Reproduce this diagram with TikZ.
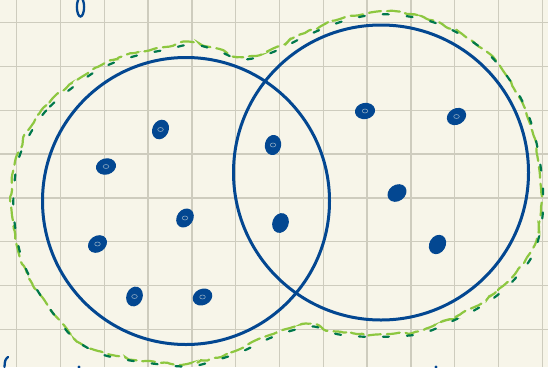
\documentclass[tikz,border=0pt]{standalone}
\usepackage{tikz}
\usetikzlibrary{shapes.geometric, decorations.pathmorphing}
\definecolor{paper}{RGB}{247, 245, 233}
\definecolor{gridgrey}{RGB}{206, 204, 190}
\definecolor{inkblue}{RGB}{3, 71, 145}
\definecolor{limeline}{RGB}{141, 199, 64}
\definecolor{pineline}{RGB}{0, 120, 76}

\newcommand{\inkdot}[3]{\node[inkdot, rotate=#3] (#1) at (#2) {};}

\begin{document}
\begin{tikzpicture}[x=1pt, y=-1pt,
    setring/.style={circle, draw=inkblue, line width=3pt, inner sep=0pt},
    inkdot/.style={ellipse, fill=inkblue, draw=inkblue, line width=1.2pt, inner sep=0pt,
        minimum width=19pt, minimum height=15pt},
    limedash/.style={limeline, line width=2.2pt, line cap=round, dash pattern=on 13pt off 6pt,
        decorate, decoration={random steps, segment length=5pt, amplitude=1.7pt}, rounded corners=2pt},
    pinedash/.style={pineline, line width=2.2pt, line cap=round, dash pattern=on 6pt off 18pt}]
    \fill[paper] (0,0) rectangle (548,367);
    \useasboundingbox (0,0) rectangle (548,367);

    % squared paper
    \foreach \i in {0,...,12}
        \draw[gridgrey, line width=1.3pt] (16.7+43.8*\i,0) -- (16.7+43.8*\i,367);
    \foreach \j in {0,...,7}
        \draw[gridgrey, line width=1.3pt] (0,22.7+43.8*\j) -- (548,22.7+43.8*\j);

    % loop round both sets
    \draw[limedash] plot[smooth cycle, tension=0.6] coordinates {(30,128) (48,104) (80,78) (105,63)
        (135,53) (165,47) (190,42) (215,48) (240,57) (270,50) (305,33) (340,19) (374,12) (407,14)
        (435,21) (462,34) (487,52) (506,75) (522,102) (532,130) (538,160) (541,188) (540,218)
        (532,250) (515,274) (495,293) (472,308) (447,320) (420,331) (390,334) (357,334) (332,331)
        (312,324) (290,328) (267,336) (240,349) (213,358) (187,364) (150,361) (117,356) (95,350)
        (72,336) (52,312) (38,292) (27,273) (18,250) (12,215) (12,185) (17,155)};
    \draw[pinedash, shift={(2,2.5)}] plot[smooth cycle, tension=0.6] coordinates {(30,128) (48,104)
        (80,78) (105,63) (135,53) (165,47) (190,42) (215,48) (240,57) (270,50) (305,33) (340,19)
        (374,12) (407,14) (435,21) (462,34) (487,52) (506,75) (522,102) (532,130) (538,160)
        (541,188) (540,218) (532,250) (515,274) (495,293) (472,308) (447,320) (420,331) (390,334)
        (357,334) (332,331) (312,324) (290,328) (267,336) (240,349) (213,358) (187,364) (150,361)
        (117,356) (95,350) (72,336) (52,312) (38,292) (27,273) (18,250) (12,215) (12,185) (17,155)};

    % the two sets
    \node[setring, minimum size=287pt] (setA) at (186,201) {};
    \node[setring, minimum size=295pt] (setB) at (381,172.5) {};

    % elements
    \inkdot{a1}{160.5,129.5}{65}
    \inkdot{a2}{106,166.5}{15}
    \inkdot{a3}{185,218}{55}
    \inkdot{a4}{97.5,244}{35}
    \inkdot{a5}{134.5,296.5}{70}
    \inkdot{a6}{202.5,297}{25}
    \inkdot{m1}{273,145}{80}
    \inkdot{m2}{280.5,223}{70}
    \inkdot{b1}{365,111}{10}
    \inkdot{b2}{456.5,116.5}{30}
    \inkdot{b3}{397,193}{35}
    \inkdot{b4}{437.5,244.5}{60}
    \foreach \d in {a1,a2,a3,a4,a5,a6,m1,b1,b2}
        \path[draw=paper, line width=0.6pt, opacity=0.55] (\d.center) ellipse (2.8pt and 2pt);

    % bits of other sketches at the edges
    \draw[inkblue, line width=2.3pt] (80.5,7) ellipse (3.6 and 9.5);
    \draw[inkblue, line width=2.3pt, line cap=round] (8,357) .. controls (5,360) .. (4.5,367);
    \fill[inkblue] (79,367) circle[radius=1.6];
    \fill[inkblue] (436,367) circle[radius=1.6];
\end{tikzpicture}
\end{document}
